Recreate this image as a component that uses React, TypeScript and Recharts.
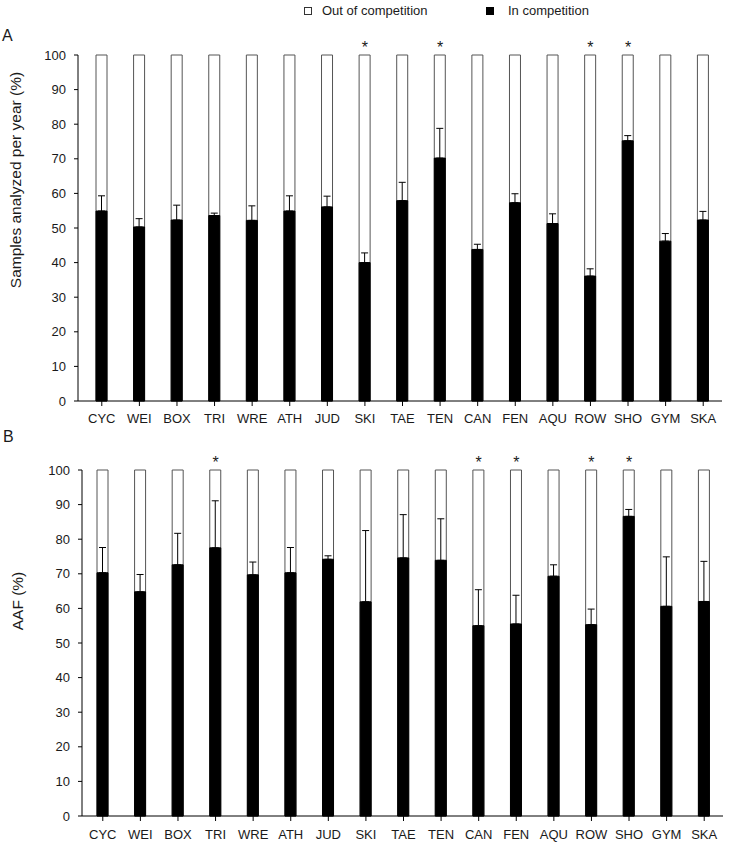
import { ComposedChart, Bar, Line, XAxis, YAxis, ErrorBar } from 'recharts';

const sports = ['CYC', 'WEI', 'BOX', 'TRI', 'WRE', 'ATH', 'JUD', 'SKI', 'TAE', 'TEN', 'CAN', 'FEN', 'AQU', 'ROW', 'SHO', 'GYM', 'SKA'];

// Panel A: samples analyzed per year, in-competition share (%)
const samplesIn = [54.9, 50.3, 52.3, 53.6, 52.2, 54.9, 56.1, 40.0, 57.9, 70.2, 43.8, 57.3, 51.3, 36.1, 75.2, 46.2, 52.3];
const samplesErr = [4.4, 2.4, 4.3, 0.7, 4.2, 4.4, 3.1, 2.8, 5.3, 8.6, 1.5, 2.6, 2.8, 2.1, 1.5, 2.2, 2.5];
const samplesStars = ['SKI', 'TEN', 'ROW', 'SHO'];

// Panel B: AAF, in-competition share (%)
const aafIn = [70.3, 64.8, 72.6, 77.5, 69.7, 70.3, 74.2, 61.9, 74.6, 73.9, 55.0, 55.5, 69.3, 55.3, 86.6, 60.6, 62.0];
const aafErr = [7.3, 5.0, 9.1, 13.6, 3.7, 7.3, 1.0, 20.6, 12.5, 12.0, 10.4, 8.3, 3.3, 4.5, 2.0, 14.3, 11.6];
const aafStars = ['TRI', 'CAN', 'FEN', 'ROW', 'SHO'];

const yTicks = [0, 10, 20, 30, 40, 50, 60, 70, 80, 90, 100];
const seriesNames = ['Out of competition', 'In competition'];

const FONT = '"Liberation Sans", Arial, Helvetica, sans-serif';
const INK = '#1a1a1a';

const buildRows = (vals: number[], errs: number[], stars: string[]) =>
  sports.map((s, i) => ({
    sport: s,
    inComp: vals[i],
    outComp: 100 - vals[i],
    err: [0, errs[i]],
    star: stars.includes(s) ? 100 : null,
  }));

// significance marker drawn above the top of the column
const renderStar = (props: any) => {
  const { cx, cy, value, index } = props;
  if (value == null || cx == null || cy == null) return <g key={`star-${index}`} />;
  return (
    <text key={`star-${index}`} x={cx} y={cy - 2.5} textAnchor="middle" fontSize={16} fill={INK} fontFamily={FONT}>
      *
    </text>
  );
};

interface PanelProps {
  rows: ReturnType<typeof buildRows>;
  top: number;
  height: number;
  marginTop: number;
  marginRight: number;
  axisWidth: number;
  padLeft: number;
  tickGap: number;
}

function Panel({ rows, top, height, marginTop, marginRight, axisWidth, padLeft, tickGap }: PanelProps) {
  const tickStyle = { fontSize: 13, fill: INK, fontFamily: FONT };
  return (
    <div style={{ position: 'absolute', left: 0, top }}>
      <ComposedChart
        width={729}
        height={height}
        data={rows}
        margin={{ top: marginTop, right: marginRight, bottom: 4, left: 0 }}
      >
        <XAxis
          dataKey="sport"
          height={25}
          padding={{ left: padLeft, right: 0 }}
          tick={tickStyle}
          tickSize={5}
          tickMargin={tickGap}
          axisLine={{ stroke: '#000' }}
          tickLine={{ stroke: '#000' }}
          interval={0}
        />
        <YAxis
          width={axisWidth}
          domain={[0, 100]}
          ticks={yTicks}
          interval={0}
          tick={tickStyle}
          tickSize={4}
          tickMargin={8}
          axisLine={{ stroke: '#000' }}
          tickLine={{ stroke: '#000' }}
        />
        {/* white background column = out of competition (remainder to 100) */}
        <Bar
          dataKey="inComp"
          name={seriesNames[1]}
          barSize={11}
          fill="#000"
          stroke="#000"
          strokeWidth={1}
          background={{ fill: '#fff', stroke: '#555', strokeWidth: 1 }}
          isAnimationActive={false}
        >
          <ErrorBar dataKey="err" direction="y" width={3.5} stroke="#000" strokeWidth={1} />
        </Bar>
        <Line
          dataKey="star"
          stroke="none"
          dot={renderStar}
          activeDot={false}
          legendType="none"
          isAnimationActive={false}
        />
      </ComposedChart>
    </div>
  );
}

export default function App() {
  const rowsA = buildRows(samplesIn, samplesErr, samplesStars);
  const rowsB = buildRows(aafIn, aafErr, aafStars);

  return (
    <div style={{ position: 'absolute', left: 0, top: 0, width: 729, height: 845, background: '#fff' }}>
      <Panel rows={rowsA} top={0} height={430} marginTop={55} marginRight={7} axisWidth={78} padLeft={5} tickGap={8} />
      <Panel rows={rowsB} top={430} height={415} marginTop={40} marginRight={6} axisWidth={82} padLeft={2} tickGap={9} />
      <svg
        width={729}
        height={845}
        style={{ position: 'absolute', left: 0, top: 0, pointerEvents: 'none' }}
        fontFamily={FONT}
        fill={INK}
      >
        {/* legend */}
        <rect x={304.5} y={7.5} width={7} height={7} fill="#fff" stroke="#333" />
        <text x={322} y={14.5} fontSize={13}>
          {seriesNames[0]}
        </text>
        <rect x={486} y={7} width={8} height={8} fill="#000" />
        <text x={508} y={14.5} fontSize={13}>
          {seriesNames[1]}
        </text>

        {/* panel letters */}
        <text x={2} y={41} fontSize={16}>A</text>
        <text x={3} y={442} fontSize={16}>B</text>

        {/* axis titles */}
        <text
          x={15}
          y={180}
          fontSize={15.5}
          textAnchor="middle"
          dominantBaseline="central"
          transform="rotate(-90, 15, 180)"
        >
          Samples analyzed per year (%)
        </text>
        <text
          x={17}
          y={601}
          fontSize={15.5}
          textAnchor="middle"
          dominantBaseline="central"
          transform="rotate(-90, 17, 601)"
        >
          AAF (%)
        </text>
      </svg>
    </div>
  );
}
